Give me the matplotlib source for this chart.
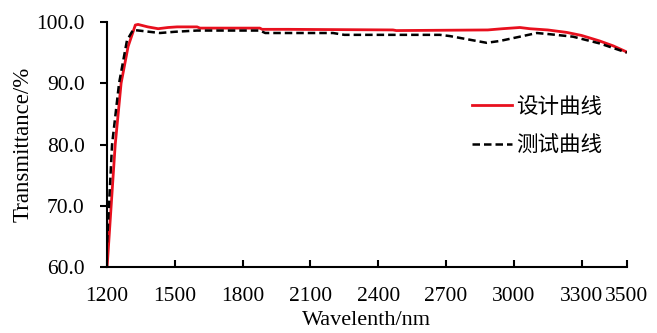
import matplotlib
matplotlib.use("Agg")
import matplotlib.pyplot as plt

plt.rcParams['font.family'] = ['Liberation Serif', 'Noto Sans CJK SC']

# design curve
wl_design = [1200, 1218, 1236, 1262, 1293, 1325, 1337, 1380, 1426, 1470, 1510, 1598, 1611,
             1700, 1876, 1886, 2000, 2465, 2480, 2885, 2950, 3027, 3071, 3150, 3234, 3300,
             3380, 3440, 3500]
t_design = [60, 70, 80, 90, 96, 99.5, 99.6, 99.2, 98.9, 99.1, 99.2, 99.2, 99.0,
            99.0, 99.0, 98.8, 98.8, 98.7, 98.6, 98.7, 98.9, 99.1, 98.9, 98.7, 98.3, 97.8,
            96.9, 96.1, 95.1]

# measured curve
wl_test = [1200, 1222, 1253, 1288, 1315, 1340, 1434, 1500, 1598, 1876, 1900, 2200, 2250,
           2496, 2673, 2717, 2850, 2880, 2938, 3027, 3102, 3160, 3262, 3380, 3500]
t_test = [64, 80, 90, 97, 98.7, 98.6, 98.2, 98.4, 98.6, 98.6, 98.2, 98.2, 97.9,
          97.9, 97.9, 97.7, 96.8, 96.6, 96.9, 97.6, 98.2, 98.0, 97.6, 96.5, 95.0]

xticks = [1200, 1500, 1800, 2100, 2400, 2700, 3000, 3300, 3500]
yticks = [60, 70, 80, 90, 100]

fig = plt.figure(figsize=(6.57, 3.33), dpi=100)
ax = fig.add_axes([0.163, 0.198, 0.791, 0.736])

ax.plot(wl_design, t_design, color='#e8101e', lw=2, label='设计曲线')
ax.plot(wl_test, t_test, color='black', lw=1.8, ls=(0, (3, 1.6)), label='测试曲线')

ax.set_xlim(1200, 3500)
ax.set_ylim(60, 100)
ax.set_xticks(xticks)
ax.set_yticks(yticks)
ax.set_yticklabels([f'{v:.1f}' for v in yticks])
ax.tick_params(axis='x', direction='in', length=5, width=1.5, labelsize=15.5, pad=14)
ax.tick_params(axis='y', direction='out', length=5, width=1.5, labelsize=15.5, pad=11)
for s in ['top', 'right']:
    ax.spines[s].set_visible(False)
for s in ['left', 'bottom']:
    ax.spines[s].set_linewidth(1.5)

ax.set_xlabel('Wavelenth/nm', fontsize=16, labelpad=4)
ax.set_ylabel('Transmittance/%', fontsize=16.5, labelpad=2)

ax.legend(loc='upper left', bbox_to_anchor=(0.718, 0.707), bbox_transform=fig.transFigure,
          frameon=False, fontsize=15.5, handlelength=1.86, handletextpad=0.2,
          labelspacing=0.87, borderpad=0, borderaxespad=0)

fig.savefig('out.png', dpi=100)
